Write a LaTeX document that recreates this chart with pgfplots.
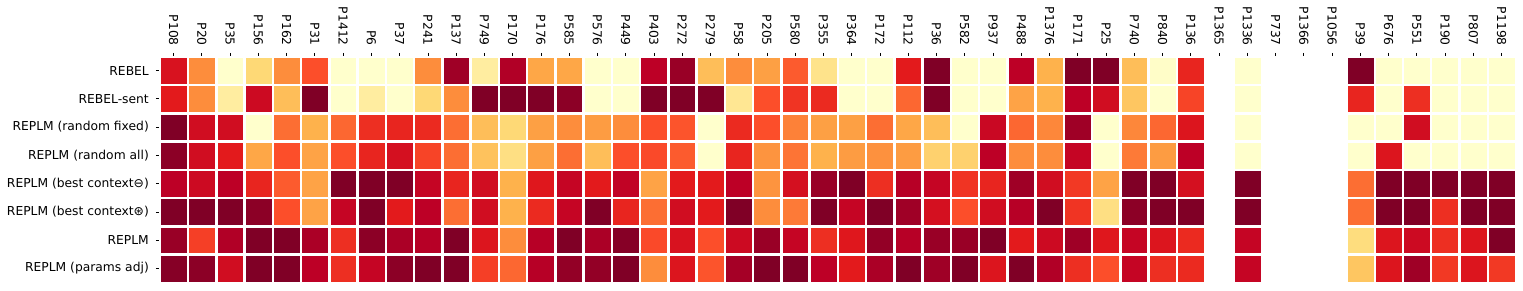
\documentclass[border=0pt]{standalone}
\usepackage{fontspec}
\setmainfont{DejaVu Sans}
\usepackage{pgfplots}
\usepackage{pgfplotstable}
\pgfplotsset{compat=1.18}
\pgfplotstableread{
x r0 r1 r2 r3 r4 r5 r6 r7
0 6.3 6 8 7.8 7 8 7.6 7.9
1 4 4 6.5 6.5 6.6 8 5.3 7.8
2 0 1 6.5 6 7 8 7.2 6.5
3 2 6.6 0 3.3 5.8 7.8 8 8
4 4 2.7 4.5 5 4.8 5 8 8
5 5 8 3 3.4 3.4 3.4 7.3 7
6 0 0 4.6 5 8 6.8 5.6 5.6
7 0 1 5.6 5.8 8 8 7.8 6.8
8 0 0 5.8 6.4 8 6 7.3 7.8
9 4 2 5.7 5.2 6.8 7 7.1 8
10 7.5 4 4.5 4.5 5.8 4.5 8 8
11 1 8 2.7 2.6 6.5 6.5 6.2 5.3
12 7.2 8 2 1.7 3 3 4 4.6
13 3.3 8 3.5 3.5 6.1 5.7 7.1 7.1
14 3.3 7.8 4 4.5 6.8 6.8 8 7.7
15 0 0 3.6 2.7 6 8 7.3 7.7
16 0 0 4 5 6.9 5.8 7.9 8
17 7 8 5 5.1 3.4 4.5 5.1 4
18 7.6 8 4.9 4.8 6 6.5 6.3 6.2
19 2.7 8 0 0 6 6 5 4.9
20 4 1.3 5.7 5.8 7 8 6.6 7.4
21 3.5 5 5 3.8 3.8 4 7.6 8
22 4.8 5.5 4.2 4.4 6.4 4.3 6.8 8
23 1.5 5.7 3.5 3 7.6 8 5.6 7
24 0 0 3.5 3.6 8 6.8 6.1 6
25 0 0 4.5 3.9 5.6 8 7.7 7.3
26 6 4.6 3.3 3.6 7.1 7.5 7.1 8
27 8 8 2.7 2.2 6.8 6.4 7.6 7.5
28 0 0 0 2.2 5.5 5 7.6 8
29 0 0 6.7 7 5.8 6.5 8 6.2
30 7 3.4 4.6 4 7.5 7.1 6 8
31 3 3 4.1 4 6.5 8 6.6 7.2
32 8 7 7.5 6.8 5.4 5.5 7.5 5.6
33 8 6.5 0 0 3.4 1.7 6.1 5
34 2.7 2.5 4.1 4.3 8 7.8 6.8 6.8
35 0.1 0 4.6 3.6 8 8 6.2 5.6
36 5.8 5.2 6.2 7 6.4 8 5.7 5.7
38 0 0 0 0 8 8 6.8 6.8
42 8 5.8 0 0 4.5 4.5 1.8 2.5
43 0 0 0 6.2 8 8 6.2 6.2
44 0 5.6 6.5 0 8 8 6.6 7.5
45 0 0 0 0 8 5.6 5.6 5.4
46 0 0 0 0 8 8 6.2 6.2
47 0 0 0 0 8 8 8 5.4
}\heat
\pgfplotsset{cell/.style={scatter, only marks, mark=square*, mark size=12.4pt,
    point meta=explicit,
    scatter/use mapped color={draw=mapped color, fill=mapped color}, line width=0.3pt}}
\begin{document}
\begin{tikzpicture}
\begin{axis}[
  x=28.27pt, y=28.3pt,
  y dir=reverse,
  xmin=-0.5, xmax=47.5, ymin=-0.5, ymax=7.5,
  enlargelimits=false, clip=false,
  axis line style={draw=none},
  axis x line*=top, axis y line*=left,
  tick align=outside,
  major tick length=3.5pt,
  tick style={black, line width=0.8pt},
  xtick={0,...,47}, ytick={0,...,7},
  xticklabels={P108,P20,P35,P156,P162,P31,P1412,P6,P37,P241,P137,P749,P170,P176,P585,P576,P449,P403,P272,P279,P58,P205,P580,P355,P364,P172,P112,P36,P582,P937,P488,P1376,P171,P25,P740,P840,P136,P1365,P1336,P737,P1366,P1056,P39,P676,P551,P190,P807,P1198},
  yticklabels={REBEL,REBEL-sent,REPLM (random fixed),REPLM (random all),REPLM (best context⊖),REPLM (best context⊛),REPLM,REPLM (params adj)},
  xticklabel style={font=\fontsize{12.3}{14}\selectfont, rotate=-90, anchor=east, inner xsep=7pt, inner ysep=0pt},
  yticklabel style={font=\fontsize{12.3}{14}\selectfont, anchor=east, inner xsep=7pt, inner ysep=0pt},
  colormap={ylorrd}{rgb255=(255,255,204) rgb255=(255,237,160) rgb255=(254,217,118) rgb255=(254,178,76) rgb255=(253,141,60) rgb255=(252,78,42) rgb255=(227,26,28) rgb255=(189,0,38) rgb255=(128,0,38)},
  point meta min=0, point meta max=8,
]
\addplot[cell] table[x=x, y expr=0, meta=r0] {\heat};
\addplot[cell] table[x=x, y expr=1, meta=r1] {\heat};
\addplot[cell] table[x=x, y expr=2, meta=r2] {\heat};
\addplot[cell] table[x=x, y expr=3, meta=r3] {\heat};
\addplot[cell] table[x=x, y expr=4, meta=r4] {\heat};
\addplot[cell] table[x=x, y expr=5, meta=r5] {\heat};
\addplot[cell] table[x=x, y expr=6, meta=r6] {\heat};
\addplot[cell] table[x=x, y expr=7, meta=r7] {\heat};
\path (axis cs:-6.11,-2.47) rectangle (axis cs:47.76,7.78);
\end{axis}
\end{tikzpicture}
\end{document}
